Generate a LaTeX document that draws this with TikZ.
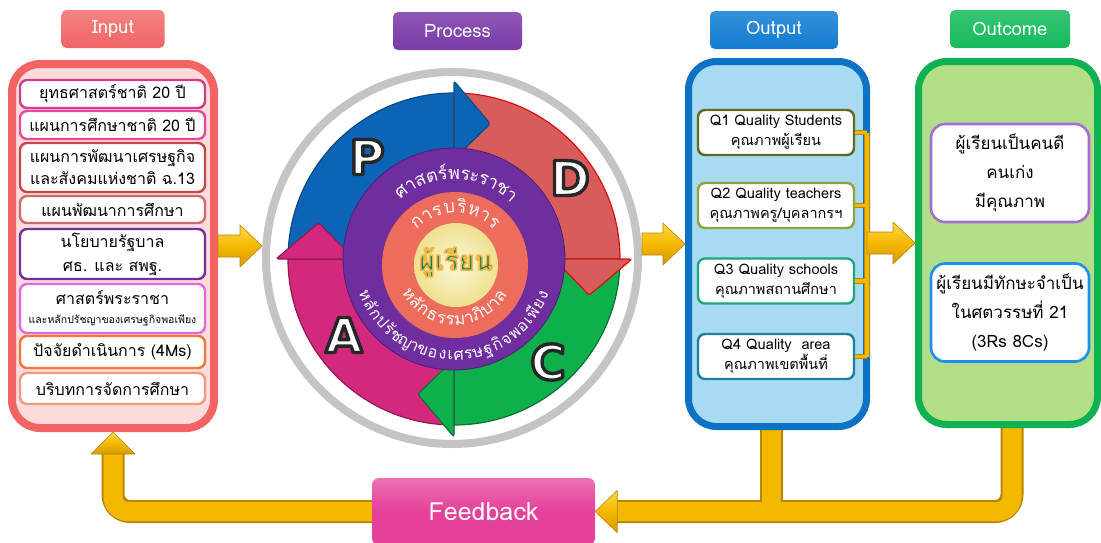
\documentclass[tikz,border=0pt]{standalone}
\usepackage{fontspec}
\setmainfont{Loma}[Script=Thai]
\newfontfamily\pdcafont{DejaVu Sans}
\usetikzlibrary{calc}
\pgfdeclarelayer{background}
\pgfsetlayers{background,main}

\definecolor{inRed}{HTML}{F26464}
\definecolor{inFill}{HTML}{FDDBDB}
\definecolor{prPur}{HTML}{7A3AA8}
\definecolor{ouBlue}{HTML}{0C72C6}
\definecolor{ouTitle}{HTML}{127CD2}
\definecolor{ouFill}{HTML}{A8DBF1}
\definecolor{ocGreen}{HTML}{10B150}
\definecolor{ocTitle}{HTML}{14BA5C}
\definecolor{ocFill}{HTML}{B2DE87}
\definecolor{fbPink}{HTML}{E5409A}
\definecolor{goldL}{HTML}{FFD84A}
\definecolor{goldM}{HTML}{F4B800}
\definecolor{goldD}{HTML}{D59A00}
\definecolor{goldE}{HTML}{B88600}
\definecolor{ringGray}{HTML}{C4C4C4}
\definecolor{bA}{HTML}{D63A8C}
\definecolor{bB}{HTML}{E8489C}
\definecolor{bC}{HTML}{C44848}
\definecolor{bD}{HTML}{CF6A6A}
\definecolor{bE}{HTML}{7030A0}
\definecolor{bF}{HTML}{E466E0}
\definecolor{bG}{HTML}{F47535}
\definecolor{bH}{HTML}{F4987A}
\definecolor{qA}{HTML}{5D6B22}
\definecolor{qB}{HTML}{8CA43C}
\definecolor{qC}{HTML}{1FA57E}
\definecolor{qD}{HTML}{1A7FA6}
\definecolor{oA}{HTML}{A46DD6}
\definecolor{oB}{HTML}{1E8FF0}
\definecolor{pBlue}{HTML}{0B64B6}
\definecolor{pBlueE}{HTML}{0A4C80}
\definecolor{dRed}{HTML}{D85C5C}
\definecolor{dRedE}{HTML}{D90F0F}
\definecolor{cGreen}{HTML}{0DB04B}
\definecolor{cGreenE}{HTML}{0A7038}
\definecolor{aMag}{HTML}{D4287F}
\definecolor{aMagE}{HTML}{8F1A50}
\definecolor{discPur}{HTML}{6F2DA0}
\definecolor{discSal}{HTML}{EE6C5C}
\definecolor{coreY}{HTML}{F6F1BE}
\definecolor{coreO}{HTML}{EFE08E}
\definecolor{learnC}{HTML}{1E7D55}

% #1 centre, #2 baseline radius, #3 mid angle, #4 degrees per unit (signed), #5 rotation offset, #6 font, #7 colour, #8 glyph/offset list
\newcommand\arctext[8]{%
  \foreach \g/\o in {#8}{%
    \pgfmathsetmacro\ang{#3+(#4)*(\o)}%
    \pgfmathsetmacro\rot{\ang+(#5)}%
    \node[anchor=base, inner sep=0, text=#7, font=#6, rotate=\rot] at ($(#1)+(\ang:#2pt)$) {\g};%
  }}
% gold block arrow pointing right: tail, tip
\newcommand\harrow[2]{%
  \path[goldarrow] let \p1=(#1), \p2=(#2) in (\x1,\y1+11pt) -- (\x2-22pt,\y1+11pt) -- (\x2-22pt,\y1+21pt) -- (\x2,\y1) -- (\x2-22pt,\y1-21pt) -- (\x2-22pt,\y1-11pt) -- (\x1,\y1-11pt) -- cycle;}
% annular sector of the PDCA band
\newcommand\bandseg[4]{%
  \filldraw[fill=#3, draw=#4, line width=1.2pt, line join=round] ($(pc)+(#1:166pt)$) arc[start angle=#1, end angle=#2, radius=166pt] -- ($(pc)+(#2:110pt)$) arc[start angle=#2, end angle=#1, radius=110pt] -- cycle;}
\newcommand\bandhead[3]{%
  \filldraw[fill=#2, draw=#3, line width=1.2pt, rounded corners=2.5pt] ($(pc)+(#1:100pt)$) -- ($(pc)+(#1:178pt)$) -- ($(pc)+(#1-15:140pt)$) -- cycle;}
% outlined text: fill colour given by the node, stroke set here
\newcommand\outlined[3]{\special{pdf:literal direct #1 RG 2 Tr #2 w 1 j}#3\special{pdf:literal direct 0 Tr 1 w}}

\begin{document}
\begin{tikzpicture}[x=1pt,y=-1pt,
  ttl/.style={rounded corners=5pt, minimum height=38pt, inner sep=0, text=white, font=\fontsize{18.5}{20}\selectfont},
  panel/.style={rounded corners=28pt, inner sep=0},
  ibox/.style={draw, fill=white, line width=2.4pt, rounded corners=7pt, minimum width=185pt, inner sep=0, align=center, font=\fontsize{16}{22}\selectfont},
  qbox/.style={draw, fill=white, line width=2.4pt, rounded corners=7pt, minimum width=156pt, minimum height=45pt, inner sep=0, align=center, font=\fontsize{14.5}{20}\selectfont},
  obox/.style={draw, fill=white, line width=2.6pt, rounded corners=14pt, minimum width=158pt, minimum height=98pt, inner sep=0, align=center, font=\fontsize{17}{29}\selectfont},
  goldarrow/.style={top color=goldL, bottom color=goldD, middle color=goldM, draw=goldE, line width=0.6pt, line join=round},
  pdcal/.style={inner sep=0, text=white, font=\pdcafont\bfseries\fontsize{48}{50}\selectfont},
  ctext/.style={inner sep=0, text=learnC, font=\bfseries\fontsize{27}{30}\selectfont}
]
\useasboundingbox (0,0) rectangle (1101,542);
\begin{pgfonlayer}{background}
\fill[white] (0,0) rectangle (1101,542);
\end{pgfonlayer}

% ---------- titles
\node[ttl, top color=inRed!80!white, bottom color=inRed, minimum width=103pt] (tin) at (113,29) {Input};
\node[ttl, top color=prPur!85!white, bottom color=prPur, minimum width=129pt] (tpr) at (457.5,31) {Process};
\node[ttl, top color=ouTitle!85!white, bottom color=ouTitle, minimum width=128pt] (tou) at (774,30) {Output};
\node[ttl, top color=ocTitle!85!white, bottom color=ocTitle, minimum width=120pt] (toc) at (1010,29) {Outcome};

% ---------- panels
\node[panel, draw=inRed, fill=inFill, line width=8pt, minimum width=202pt, minimum height=364pt] (inp) at (113,246) {};
\node[panel, draw=ouBlue, fill=ouFill, line width=7pt, minimum width=178pt, minimum height=365pt] (outp) at (777.5,244) {};
\node[panel, draw=ocGreen, fill=ocFill, line width=7pt, minimum width=179pt, minimum height=363pt] (outc) at (1008,243) {};

% ---------- input boxes
\node[ibox, draw=bA, minimum height=28pt] (i1) at (112.5,94) {ยุทธศาสตร์ชาติ 20 ปี};
\node[ibox, draw=bB, minimum height=28pt] (i2) at (112.5,125) {แผนการศึกษาชาติ 20 ปี};
\node[ibox, draw=bC, minimum height=49pt] (i3) at (112.5,167.5) {แผนการพัฒนาเศรษฐกิจ\\และสังคมแห่งชาติ ฉ.13};
\node[ibox, draw=bD, minimum height=27pt] (i4) at (112.5,209.5) {แผนพัฒนาการศึกษา};
\node[ibox, draw=bE, minimum height=50pt, font=\fontsize{16}{24}\selectfont] (i5) at (112.5,254) {นโยบายรัฐบาล\\ศธ. และ สพฐ.};
\node[ibox, draw=bF, minimum height=49pt] (i6) at (112.5,308.5) {ศาสตร์พระราชา\\[-3pt]{\fontsize{10.5}{13}\selectfont และหลักปรัชญาของเศรษฐกิจพอเพียง}};
\node[ibox, draw=bG, minimum height=32pt] (i7) at (112.5,352) {ปัจจัยดำเนินการ (4Ms)};
\node[ibox, draw=bH, minimum height=31pt] (i8) at (112.5,388.5) {บริบทการจัดการศึกษา};

% ---------- output boxes
\node[qbox, draw=qA] (q1) at (776,132.5) {Q1 Quality Students\\คุณภาพผู้เรียน};
\node[qbox, draw=qB] (q2) at (776,205.5) {Q2 Quality teachers\\คุณภาพครู/บุคลากรฯ};
\node[qbox, draw=qC] (q3) at (776,281) {Q3 Quality schools\\คุณภาพสถานศึกษา};
\node[qbox, draw=qD] (q4) at (776,356.5) {Q4 Quality\ \ area\\คุณภาพเขตพื้นที่};

% ---------- outcome boxes
\node[obox, draw=oA] (o1) at (1010,173) {ผู้เรียนเป็นคนดี\\คนเก่ง\\มีคุณภาพ};
\node[obox, draw=oB] (o2) at (1010,312.5) {ผู้เรียนมีทักษะจำเป็น\\ในศตวรรษที่ 21\\(3Rs 8Cs)};

% ---------- process circle
\node[circle, draw=ringGray, line width=8pt, minimum size=372pt, inner sep=0] (cyc) at (452,258) {};
\coordinate (pc) at (454,259);
\coordinate (sc) at (455,265);
\coordinate (yc) at (456,265);
\bandseg{180}{90}{pBlue}{pBlueE}
\bandseg{90}{0}{dRed}{dRedE}
\bandseg{0}{-90}{cGreen}{cGreenE}
\bandseg{-90}{-180}{aMag}{aMagE}
\bandhead{90}{pBlue}{pBlueE}
\bandhead{0}{dRed}{dRedE}
\bandhead{-90}{cGreen}{cGreenE}
\bandhead{180}{aMag}{aMagE}
\filldraw[fill=discPur, draw=discPur!70!black, line width=0.8pt] (pc) circle[radius=111pt];
\fill[discSal] (sc) circle[radius=73pt];
\shade[inner color=coreY!60!white, outer color=coreO] (yc) circle[radius=42pt];

\arctext{pc}{80}{88.5}{-8.2}{-90}{\fontsize{18}{20}\selectfont}{white}{ศ/-4.825,า/-3.925,ส/-3.025,ต/-2.025,ร์/-1.1,พ/-0.175,ร/0.75,ะ/1.525,ร/2.3,า/3.125,ช/4.025,า/4.925}
\arctext{sc}{52}{90}{-13.5}{-90}{\fontsize{18}{20}\selectfont}{white!88!pink}{ก/-3.075,า/-2.175,ร/-1.35,บ/-0.425,ริ/0.5,ห/1.425,า/2.325,ร/3.15}
\arctext{sc}{60}{269}{10.9}{90}{\fontsize{17}{20}\selectfont}{white!90!pink}{ห/-5.15,ลั/-4.15,ก/-3.15,ธ/-2.15,ร/-1.225,ร/-0.375,ม/0.55,า/1.45,ภิ/2.35,บ/3.35,า/4.25,ล/5.15}
\arctext{pc}{101}{270}{6.24}{90}{\fontsize{16}{18}\selectfont}{white}{ห/-10.8,ลั/-9.8,ก/-8.8,ป/-7.8,รั/-6.875,ช/-5.95,ญ/-4.9,า/-3.95,ข/-3.05,อ/-2.05,ง/-1.1,เ/-0.35,ศ/0.45,ร/1.375,ษ/2.3,ฐ/3.3,กิ/4.3,จ/5.3,พ/6.3,อ/7.3,เ/8.1,พี/8.9,ย/9.9,ง/10.85}

\node[ctext] (learner) at (456,262) {\outlined{0.94 0.72 0.28}{1.6}{ผู้เรียน}};

\node[pdcal] (lp) at (367,157) {\outlined{0.15 0.15 0.15}{3.4}{P}};
\node[pdcal] (ld) at (570,178) {\outlined{0.15 0.15 0.15}{3.4}{D}};
\node[pdcal] (lc) at (548,362) {\outlined{0.15 0.15 0.15}{3.4}{C}};
\node[pdcal] (la) at (344,335) {\outlined{0.15 0.15 0.15}{3.4}{A}};

% ---------- forward arrows
\harrow{inp.east}{cyc.west |- inp.east}
\harrow{cyc.east |- outp.west}{outp.west}
\coordinate (barx) at (867,0);
\draw[line width=6pt, goldE] (q1.east -| barx) -- (q4.east -| barx);
\foreach \q in {q1,q2,q3,q4} {
  \draw[line width=5.5pt, goldE] (\q.east) -- (\q.east -| barx);
  \draw[line width=3.5pt, goldM] (\q.east) -- (\q.east -| barx);
}
\draw[line width=4pt, goldM] (q1.east -| barx) -- (q4.east -| barx);
\harrow{barx |- outc.west}{outc.west}

% ---------- feedback
\node[rounded corners=7pt, minimum width=223pt, minimum height=67pt, inner sep=0, top color=fbPink!75!white, bottom color=fbPink, middle color=fbPink, text=white, font=\fontsize{25}{28}\selectfont] (fb) at (483.5,511.5) {Feedback};
\coordinate (od) at ($(outp.south)+(-6,0)$);
\coordinate (ocd) at ($(outc.south)+(4,0)$);
\begin{pgfonlayer}{background}
  \draw[line width=23pt, goldE, rounded corners=17pt] (ocd) |- ($(fb.east)+(22,0)$);
  \draw[line width=23pt, goldE] (od) -- (od |- fb.east);
  \draw[line width=23pt, goldE, rounded corners=17pt] (fb.west) -| ($(inp.south)+(0,22)$);
  \draw[line width=19pt, goldM, rounded corners=15pt] (ocd) |- ($(fb.east)+(22,0)$);
  \draw[line width=19pt, goldM] (od) -- (od |- fb.east);
  \draw[line width=19pt, goldM, rounded corners=15pt] (fb.west) -| ($(inp.south)+(0,22)$);
\end{pgfonlayer}
\path[goldarrow] ($(fb.east)+(22,-21)$) -- ($(fb.east)+(22,21)$) -- (fb.east) -- cycle;
\path[goldarrow] ($(inp.south)+(-22,22)$) -- ($(inp.south)+(22,22)$) -- (inp.south) -- cycle;
\end{tikzpicture}
\end{document}
